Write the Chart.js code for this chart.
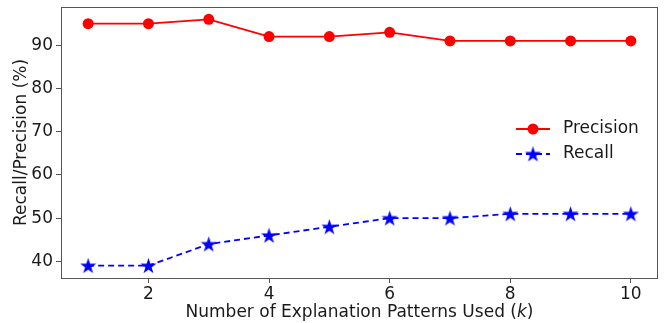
<!DOCTYPE html>
<html><head><meta charset="utf-8">
<script src="https://cdn.jsdelivr.net/npm/chart.js@4/dist/chart.umd.min.js"></script>
<style>html,body{margin:0;padding:0;background:#fff}#wrap{width:664px;height:323px}</style>
</head><body><div id="wrap"><canvas id="c" width="664" height="323"></canvas></div>
<script>
const kValues = [1,2,3,4,5,6,7,8,9,10];
const precision = [95,95,96,92,92,93,91,91,91,91];
const recall = [39,39,44,46,48,50,50,51,51,51];
const xTicks = [2,4,6,8,10];
const yTicks = [40,50,60,70,80,90];
const xTitleParts = [['Number of Explanation Patterns Used (', false], ['k', true], [')', false]];
const FONT = "'DejaVu Sans', sans-serif";

function makeStar(size, color){
  const cv = document.createElement('canvas');
  cv.width = size; cv.height = size;
  const g = cv.getContext('2d');
  const cx = size/2, cy = size/2 + size*0.04, R = size/2, r = R*0.38;
  g.beginPath();
  for(let i=0;i<10;i++){
    const a = -Math.PI/2 + i*Math.PI/5;
    const rr = i%2===0 ? R : r;
    g.lineTo(cx + rr*Math.cos(a), cy + rr*Math.sin(a));
  }
  g.closePath(); g.fillStyle = color; g.fill();
  return cv;
}
const starImg = makeStar(17, '#0000ff');

const frame = {
  id:'frame',
  afterDraw(chart){
    const {ctx, chartArea:a} = chart;
    ctx.save();
    ctx.strokeStyle = '#555'; ctx.lineWidth = 1;
    ctx.strokeRect(a.left+0.5, a.top+0.5, a.right-a.left-1, a.bottom-a.top);
    ctx.fillStyle = '#1a1a1a'; ctx.textBaseline = 'middle'; ctx.textAlign = 'left';
    let total = 0;
    xTitleParts.forEach(([t,it])=>{ ctx.font = (it?'italic ':'') + '17px ' + FONT; total += ctx.measureText(t).width; });
    let x = (a.left + a.right)/2 - total/2;
    xTitleParts.forEach(([t,it])=>{ ctx.font = (it?'italic ':'') + '17px ' + FONT; ctx.fillText(t, x, 313); x += ctx.measureText(t).width; });
    const items = [
      {label:'Precision', color:'#ff0000', dash:[], y:129, marker:'circle'},
      {label:'Recall', color:'#0000ff', dash:[6,4], y:154, marker:'star'}
    ];
    items.forEach(it=>{
      ctx.strokeStyle = it.color; ctx.lineWidth = 2; ctx.setLineDash(it.dash);
      ctx.beginPath(); ctx.moveTo(516, it.y); ctx.lineTo(550, it.y); ctx.stroke();
      ctx.setLineDash([]);
      if(it.marker==='circle'){
        ctx.fillStyle = it.color; ctx.beginPath(); ctx.arc(533, it.y, 5.5, 0, Math.PI*2); ctx.fill();
      } else {
        ctx.drawImage(starImg, 533-8.5, it.y-8.5);
      }
      ctx.fillStyle = '#1a1a1a'; ctx.font = "17px " + FONT; ctx.textBaseline='middle'; ctx.textAlign='left';
      ctx.fillText(it.label, 563, it.y);
    });
    ctx.restore();
  }
};

new Chart(document.getElementById('c'), {
  type:'line',
  data:{
    datasets:[
      {label:'Precision', data:kValues.map((k,i)=>({x:k,y:precision[i]})), borderColor:'#ff0000', backgroundColor:'#ff0000',
       borderWidth:1.8, pointRadius:5.5, pointHoverRadius:5.5, pointStyle:'circle', pointBorderWidth:0, tension:0},
      {label:'Recall', data:kValues.map((k,i)=>({x:k,y:recall[i]})), borderColor:'#0000ff', backgroundColor:'#0000ff',
       borderWidth:1.8, borderDash:[6,4], pointStyle:starImg, pointRadius:8, tension:0}
    ]
  },
  options:{
    responsive:false, animation:false, devicePixelRatio:1,
    layout:{autoPadding:false, padding:{left:0,right:6,top:7,bottom:0}},
    plugins:{legend:{display:false}, tooltip:{enabled:false}},
    scales:{
      x:{type:'linear', min:0.55, max:10.45,
         afterBuildTicks:s=>{s.ticks = xTicks.map(v=>({value:v}));},
         afterFit:s=>{s.height = 45; s.paddingLeft = 0; s.paddingRight = 0;},
         grid:{display:true, drawOnChartArea:false, drawTicks:true, tickLength:5, color:'#555'},
         border:{display:false},
         ticks:{font:{family:FONT,size:17}, color:'#1a1a1a', padding:1, maxRotation:0},
         title:{display:false}
      },
      y:{min:36.15, max:98.85,
         afterBuildTicks:s=>{s.ticks = yTicks.map(v=>({value:v}));},
         afterFit:s=>{s.width = 61; s.paddingTop = 0; s.paddingBottom = 0;},
         grid:{display:true, drawOnChartArea:false, drawTicks:true, tickLength:5, color:'#555'},
         border:{display:false},
         ticks:{font:{family:FONT,size:17}, color:'#1a1a1a', padding:3},
         title:{display:true, text:'Recall/Precision (%)', font:{family:FONT,size:17}, color:'#1a1a1a', padding:{top:11,bottom:0}}
      }
    }
  },
  plugins:[frame]
});
</script></body></html>
